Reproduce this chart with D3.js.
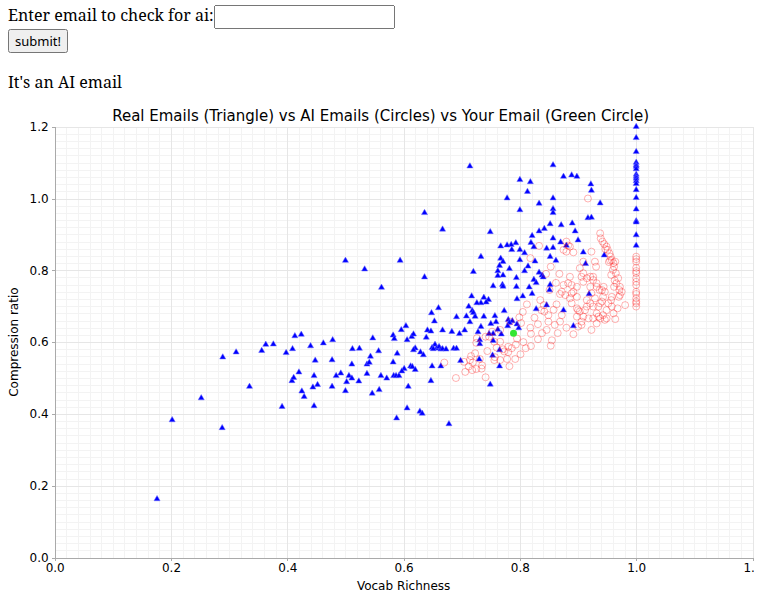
<!DOCTYPE html>
<html>

<head>
  <meta charset="utf-8">
  <style>
    body {
      margin: 4px 8px 8px 8px;
      font-family: "Noto Serif", "DejaVu Serif", serif;
      font-size: 16px;
    }

    form {
      margin: 0;
    }

    p {
      margin-top: 18px;
    }

    input {
      font-size: 13px;
      width: 173px;
      height: 18px;
      padding: 1px 2px;
      vertical-align: baseline;
    }

    button {
      font-family: "Noto Sans", "DejaVu Sans", sans-serif;
      font-size: 13px;
      padding: 1px 5px;
    }

    #chart {
      position: absolute;
      left: 0;
      top: 0;
    }

    svg text {
      font-family: "DejaVu Sans", sans-serif;
    }

    .grid line {
      shape-rendering: crispEdges;
    }

    .axis path,
    .axis line {
      stroke: #aaa;
      shape-rendering: crispEdges;
    }

    .axis text {
      font-size: 12px;
      fill: #000;
    }
  </style>
</head>

<body>
  <form>
    Enter email to check for ai:<input type="text" name="email"><br>
    <button type="button">submit!</button>
  </form>
  <p>It's an AI email</p>
  <div id="chart"></div>

  <script src="https://d3js.org/d3.v7.min.js"></script>
  <script>
    // ticks
    var xTicks = [0, 0.2, 0.4, 0.6, 0.8, 1.0, 1.2];
    var yTicks = [0, 0.2, 0.4, 0.6, 0.8, 1.0, 1.2];

    // real emails: [vocab richness, compression ratio]
    var realEmails = [
      [0.176, 0.163], [0.202, 0.383], [0.252, 0.444], [0.289, 0.558], [0.288, 0.361], [0.312, 0.572],
      [0.335, 0.476], [0.356, 0.576], [0.363, 0.593], [0.376, 0.594], [0.391, 0.420], [0.398, 0.570],
      [0.409, 0.581], [0.413, 0.617], [0.424, 0.621], [0.408, 0.492], [0.411, 0.501], [0.420, 0.516],
      [0.425, 0.463], [0.429, 0.448], [0.440, 0.589], [0.448, 0.549], [0.446, 0.506], [0.452, 0.481],
      [0.444, 0.474], [0.446, 0.422], [0.462, 0.597], [0.478, 0.606], [0.477, 0.550], [0.477, 0.476],
      [0.484, 0.506], [0.492, 0.513], [0.500, 0.464], [0.502, 0.489], [0.506, 0.506], [0.511, 0.499],
      [0.511, 0.538], [0.512, 0.581], [0.524, 0.582], [0.523, 0.491], [0.537, 0.538], [0.541, 0.543],
      [0.543, 0.560], [0.537, 0.512], [0.546, 0.457], [0.547, 0.611], [0.557, 0.575], [0.558, 0.467],
      [0.561, 0.506], [0.571, 0.499], [0.582, 0.619], [0.584, 0.609], [0.582, 0.544], [0.583, 0.506],
      [0.587, 0.506], [0.592, 0.506], [0.589, 0.568], [0.588, 0.388], [0.596, 0.634], [0.604, 0.645],
      [0.606, 0.606], [0.601, 0.526], [0.597, 0.519], [0.608, 0.476], [0.606, 0.416], [0.612, 0.533],
      [0.615, 0.531], [0.620, 0.523], [0.614, 0.615], [0.617, 0.622], [0.620, 0.583], [0.617, 0.578],
      [0.629, 0.572], [0.634, 0.564], [0.628, 0.407], [0.632, 0.401], [0.639, 0.613], [0.641, 0.633],
      [0.647, 0.630], [0.648, 0.681], [0.653, 0.658], [0.660, 0.695], [0.649, 0.533], [0.647, 0.492],
      [0.654, 0.593], [0.649, 0.584], [0.657, 0.583], [0.500, 0.827], [0.594, 0.827], [0.533, 0.803],
      [0.562, 0.752], [0.714, 1.090], [0.857, 1.093], [0.800, 1.052], [0.818, 1.046], [0.813, 1.019],
      [0.778, 1.001], [0.857, 1.001], [0.833, 0.986], [0.857, 0.971], [0.857, 0.960], [0.800, 0.968],
      [0.636, 0.960], [0.667, 0.914], [0.749, 0.907], [0.852, 0.929], [0.842, 0.916], [0.833, 0.909],
      [0.821, 0.896], [0.857, 0.889], [0.819, 0.877], [0.793, 0.876], [0.785, 0.871], [0.778, 0.870],
      [0.767, 0.867], [0.800, 0.857], [0.786, 0.857], [0.808, 0.848], [0.824, 0.865], [0.846, 0.861],
      [0.857, 0.863], [0.733, 0.838], [0.767, 0.833], [0.771, 0.824], [0.800, 0.829], [0.814, 0.811],
      [0.826, 0.825], [0.852, 0.838], [0.862, 0.827], [0.765, 0.813], [0.782, 0.804], [0.762, 0.798],
      [0.762, 0.785], [0.771, 0.786], [0.720, 0.796], [0.636, 0.781], [0.794, 0.779], [0.808, 0.798],
      [0.833, 0.794], [0.838, 0.786], [0.840, 0.781], [0.824, 0.774], [0.828, 0.765], [0.754, 0.756],
      [0.770, 0.760], [0.771, 0.755], [0.794, 0.754], [0.816, 0.753], [0.821, 0.735], [0.852, 0.760],
      [0.717, 0.728], [0.738, 0.724], [0.746, 0.718], [0.742, 0.711], [0.733, 0.709], [0.726, 0.709],
      [0.712, 0.699], [0.805, 0.728], [0.795, 0.720], [0.828, 0.692], [0.846, 0.703], [0.718, 0.687],
      [0.720, 0.682], [0.691, 0.670], [0.708, 0.672], [0.714, 0.656], [0.723, 0.671], [0.738, 0.671],
      [0.757, 0.673], [0.759, 0.656], [0.750, 0.651], [0.773, 0.687], [0.780, 0.662], [0.787, 0.659],
      [0.782, 0.654], [0.779, 0.645], [0.795, 0.650], [0.798, 0.639], [0.768, 0.622], [0.762, 0.635],
      [0.754, 0.623], [0.747, 0.623], [0.733, 0.643], [0.728, 0.628], [0.705, 0.633], [0.696, 0.623],
      [0.683, 0.629], [0.667, 0.633], [0.661, 0.587], [0.664, 0.580], [0.667, 0.581], [0.651, 0.581],
      [0.731, 0.606], [0.731, 0.595], [0.754, 0.604], [0.673, 0.580], [0.686, 0.582], [0.691, 0.582],
      [0.765, 0.578], [0.753, 0.563], [0.730, 0.552], [0.698, 0.548], [0.664, 0.533], [0.765, 0.533],
      [0.749, 0.482], [0.678, 0.372], [0.871, 0.926], [0.890, 0.931], [0.895, 0.909], [0.870, 0.878],
      [0.880, 0.869], [0.900, 0.884], [0.909, 0.850], [0.913, 0.818], [0.945, 0.842], [0.851, 0.745],
      [0.919, 0.734], [0.875, 0.689], [0.892, 0.645], [0.875, 1.061], [0.889, 1.065], [0.898, 1.061],
      [0.922, 1.040], [0.923, 1.022], [0.938, 0.987], [0.917, 0.946], [0.923, 0.947],
      [1.0, 1.200], [1.0, 1.169], [1.0, 1.130], [1.0, 1.100], [1.0, 1.093], [1.0, 1.089], [1.0, 1.082],
      [1.0, 1.067], [1.0, 1.061], [1.0, 1.056], [1.0, 1.049], [1.0, 1.041], [1.0, 1.024], [1.0, 1.002],
      [1.0, 0.970], [1.0, 0.937], [1.0, 0.934], [1.0, 0.898], [1.0, 0.869]
    ];

    // ai emails: [vocab richness, compression ratio]
    var aiEmails = [
      [0.670, 0.543], [0.690, 0.500], [0.706, 0.517], [0.718, 0.522], [0.725, 0.525], [0.734, 0.526],
      [0.741, 0.502], [0.731, 0.553], [0.735, 0.535], [0.704, 0.545], [0.714, 0.550], [0.719, 0.543],
      [0.716, 0.561], [0.723, 0.569], [0.725, 0.598], [0.741, 0.615], [0.747, 0.615], [0.756, 0.601],
      [0.757, 0.558], [0.756, 0.550], [0.766, 0.550], [0.778, 0.553], [0.792, 0.553], [0.773, 0.574],
      [0.780, 0.587], [0.780, 0.572], [0.786, 0.583], [0.793, 0.593], [0.801, 0.566], [0.810, 0.583],
      [0.819, 0.589], [0.819, 0.623], [0.831, 0.608], [0.855, 0.605], [0.831, 0.650], [0.802, 0.653],
      [0.799, 0.669], [0.805, 0.684], [0.782, 0.533], [0.842, 0.685], [0.849, 0.675], [0.841, 0.703],
      [0.863, 0.705], [0.851, 0.745], [0.869, 0.734], [0.833, 0.868], [0.818, 0.834],
      [0.917, 1.000], [0.938, 0.903], [0.880, 0.880], [0.883, 0.869], [0.875, 0.857], [0.923, 0.852],
      [0.909, 0.824], [0.903, 0.806], [0.909, 0.792], [0.835, 0.717], [0.837, 0.689], [0.869, 0.657],
      [0.860, 0.648], [0.846, 0.634], [0.783, 0.657], [0.766, 0.634], [0.766, 0.601], [0.752, 0.629],
      [0.726, 0.611], [0.771, 0.580],
      [0.886, 0.782], [0.883, 0.764], [0.875, 0.759], [0.889, 0.736], [0.898, 0.726], [0.909, 0.768],
      [0.915, 0.778], [0.926, 0.782], [0.921, 0.754], [0.932, 0.764], [0.941, 0.745], [0.943, 0.726],
      [0.938, 0.708], [0.926, 0.699], [0.915, 0.699], [0.900, 0.689], [0.898, 0.671], [0.906, 0.648],
      [0.918, 0.666], [0.935, 0.671], [0.943, 0.675], [0.949, 0.666], [0.961, 0.680], [0.952, 0.708],
      [0.958, 0.726], [0.962, 0.754], [0.972, 0.731], [0.981, 0.703],
      [0.939, 0.889], [0.945, 0.873], [0.949, 0.866], [0.951, 0.857], [0.954, 0.847], [0.956, 0.838],
      [0.958, 0.829], [0.961, 0.820], [0.962, 0.810], [0.955, 0.827], [0.964, 0.824], [0.960, 0.801],
      [0.965, 0.792], [0.969, 0.778], [0.966, 0.764], [0.972, 0.754], [0.975, 0.740], [0.970, 0.726],
      [0.968, 0.694], [0.957, 0.717], [0.958, 0.699], [0.964, 0.664], [0.942, 0.880], [0.947, 0.859],
      [0.953, 0.823], [0.957, 0.787], [0.963, 0.772], [0.971, 0.745],
      [0.886, 0.866], [0.880, 0.852], [0.892, 0.850], [0.929, 0.824], [0.931, 0.810], [0.889, 0.759],
      [0.872, 0.740], [0.878, 0.731], [0.849, 0.657], [0.892, 0.622],
      [0.944, 0.754], [0.946, 0.740], [0.937, 0.745], [0.932, 0.754], [0.926, 0.773], [0.921, 0.782],
      [0.906, 0.782], [0.898, 0.754], [0.892, 0.740], [0.886, 0.722], [0.889, 0.708], [0.898, 0.694],
      [0.903, 0.685], [0.909, 0.671], [0.906, 0.657], [0.900, 0.643], [0.921, 0.708], [0.932, 0.680],
      [0.938, 0.666], [0.926, 0.666], [0.912, 0.689], [0.915, 0.717], [0.923, 0.736], [0.929, 0.722],
      [0.935, 0.699], [0.941, 0.713], [0.949, 0.689], [0.946, 0.662], [0.932, 0.652], [0.923, 0.634],
      [0.812, 0.705], [0.825, 0.668], [0.818, 0.640], [0.838, 0.625], [0.865, 0.625], [0.880, 0.640],
      [0.853, 0.590], [0.872, 0.675], [0.858, 0.690], [0.795, 0.610], [0.806, 0.600], [0.744, 0.575],
      [0.712, 0.532], [0.760, 0.585], [0.862, 0.765], [0.868, 0.790], [0.853, 0.810], [0.845, 0.790],
      [1.0, 0.838], [1.0, 0.831], [1.0, 0.824], [1.0, 0.807], [1.0, 0.798], [1.0, 0.792], [1.0, 0.778],
      [1.0, 0.768], [1.0, 0.759], [1.0, 0.740], [1.0, 0.734], [1.0, 0.722], [1.0, 0.713], [1.0, 0.708],
      [1.0, 0.699]
    ];

    var yourEmail = [[0.789, 0.625]];

    var width = 754,
      height = 608;
    var plotLeft = 54.7,
      plotRight = 752.5,
      plotTop = 126.7,
      plotBottom = 557.5;

    var svg = d3.select("#chart").append("svg")
      .attr("width", width)
      .attr("height", height);

    var x = d3.scaleLinear().domain([0, 1.2]).range([plotLeft, plotRight]);
    var y = d3.scaleLinear().domain([0, 1.2]).range([plotBottom, plotTop]);

    // minor + major grid
    var minor = d3.range(0, 61).map(function(i) { return i * 0.02; });
    var grid = svg.append("g").attr("class", "grid");
    grid.selectAll(".vminor").data(minor).enter().append("line")
      .attr("x1", function(d) { return Math.round(x(d)) + 0.5; })
      .attr("x2", function(d) { return Math.round(x(d)) + 0.5; })
      .attr("y1", plotTop).attr("y2", plotBottom)
      .attr("stroke", "#f3f3f3");
    grid.selectAll(".hminor").data(minor).enter().append("line")
      .attr("y1", function(d) { return Math.round(y(d)) + 0.5; })
      .attr("y2", function(d) { return Math.round(y(d)) + 0.5; })
      .attr("x1", plotLeft).attr("x2", plotRight)
      .attr("stroke", "#f3f3f3");
    grid.selectAll(".vmajor").data(xTicks).enter().append("line")
      .attr("x1", function(d) { return Math.round(x(d)) + 0.5; })
      .attr("x2", function(d) { return Math.round(x(d)) + 0.5; })
      .attr("y1", plotTop).attr("y2", plotBottom)
      .attr("stroke", "#e6e6e6");
    grid.selectAll(".hmajor").data(yTicks).enter().append("line")
      .attr("y1", function(d) { return Math.round(y(d)) + 0.5; })
      .attr("y2", function(d) { return Math.round(y(d)) + 0.5; })
      .attr("x1", plotLeft).attr("x2", plotRight)
      .attr("stroke", "#e6e6e6");

    // axes
    svg.append("g")
      .attr("class", "axis")
      .attr("transform", "translate(0," + plotBottom + ")")
      .call(d3.axisBottom(x).tickValues(xTicks).tickFormat(d3.format(".1f")).tickSize(3).tickSizeOuter(0));
    svg.append("g")
      .attr("class", "axis")
      .attr("transform", "translate(" + plotLeft + ",0)")
      .call(d3.axisLeft(y).tickValues(yTicks).tickFormat(d3.format(".1f")).tickSize(3).tickSizeOuter(0));

    // title + labels
    svg.append("text")
      .attr("x", (plotLeft + plotRight) / 2 - 23)
      .attr("y", 121)
      .attr("text-anchor", "middle")
      .style("font-size", "15px")
      .text("Real Emails (Triangle) vs AI Emails (Circles) vs Your Email (Green Circle)");
    svg.append("text")
      .attr("x", (plotLeft + plotRight) / 2)
      .attr("y", 590)
      .attr("text-anchor", "middle")
      .style("font-size", "12px")
      .text("Vocab Richness");
    svg.append("text")
      .attr("transform", "translate(18," + (plotTop + plotBottom) / 2 + ") rotate(-90)")
      .attr("text-anchor", "middle")
      .style("font-size", "12px")
      .text("Compression ratio");

    // points
    var tri = d3.symbol().type(d3.symbolTriangle).size(16);
    svg.append("g").selectAll("path")
      .data(realEmails)
      .enter().append("path")
      .attr("d", tri)
      .attr("transform", function(d) { return "translate(" + x(d[0]) + "," + y(d[1]) + ")"; })
      .attr("fill", "#0000ff")
      .attr("stroke", "#6b6bff")
      .attr("stroke-width", 0.5);

    svg.append("g").selectAll("circle")
      .data(aiEmails)
      .enter().append("circle")
      .attr("cx", function(d) { return x(d[0]); })
      .attr("cy", function(d) { return y(d[1]); })
      .attr("r", 3.5)
      .attr("fill", "none")
      .attr("stroke", "#ff0000")
      .attr("stroke-opacity", 0.3);

    svg.append("g").selectAll("circle")
      .data(yourEmail)
      .enter().append("circle")
      .attr("cx", function(d) { return x(d[0]); })
      .attr("cy", function(d) { return y(d[1]); })
      .attr("r", 3.5)
      .attr("fill", "#33e633");
  </script>
</body>

</html>
